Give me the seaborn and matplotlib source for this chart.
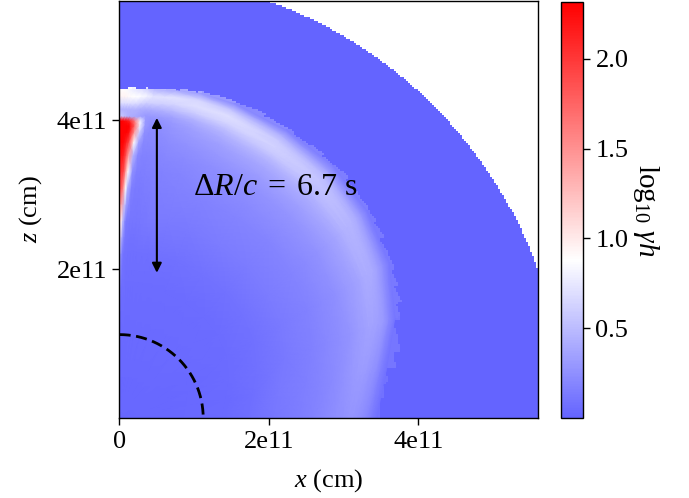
import numpy as np
import matplotlib
matplotlib.use("Agg")
import matplotlib.pyplot as plt
from matplotlib.colors import LinearSegmentedColormap, Normalize
import seaborn as sns

# all lengths in units of 1e11 cm, values are log10(gamma h)
axis_max = 5.6
outer_radius = 5.94
engine_radius = 1.12
vmin, vmax = 0.0, 2.317
ambient_value = 0.0

# jagged shell edge against angle from the z axis
edge_angles = [0, 3, 6, 9, 12, 15, 18, 21, 24, 27, 30, 33, 36, 39, 42,
               45, 48, 51, 54, 57, 60, 63, 66, 69, 72, 75, 78, 81, 84, 87]
edge_radius = [4.43, 4.44, 4.45, 4.47, 4.50, 4.52, 4.53, 4.52, 4.53, 4.50,
               4.50, 4.47, 4.48, 4.45, 4.46, 4.40, 4.38, 4.34, 4.30, 4.22,
               4.20, 4.14, 4.08, 4.00, 3.88, 3.87, 3.76, 3.62, 3.55, 3.48]

# nodes of the shell field: angle from z (deg), radius as a fraction of shell_radius
angle_nodes = [0, 0.5, 1, 1.5, 2, 3, 4, 5, 6, 8, 10, 14, 20, 30, 40, 50, 60, 70, 80, 90]
shell_radius = [4.41, 4.41, 4.41, 4.41, 4.41, 4.41, 4.42, 4.43, 4.43, 4.44,
                4.46, 4.49, 4.49, 4.46, 4.43, 4.32, 4.16, 3.92, 3.62, 3.44]
frac_nodes = [0, .25, .4, .5, .6, .7, .75, .8, .84, .87, .89, .905, .92, .94, .96, .98, 1.0]

values = [
    [.02, .04, .35, .70, 1.3, 1.9, 2.1, 2.2, 2.3, 2.3, 2.3, 2.3, .55, .45, .70, .95, .90],
    [.02, .04, .15, .30, 1.0, 1.8, 2.0, 2.2, 2.3, 2.3, 2.3, 2.3, .55, .45, .70, .95, .90],
    [.02, .04, .07, .12, .50, 1.5, 1.9, 2.1, 2.25, 2.3, 2.3, 2.25, .50, .45, .70, .95, .90],
    [.02, .04, .06, .09, .25, .90, 1.4, 1.8, 2.1, 2.3, 2.3, 2.2, .45, .45, .70, .92, .85],
    [.02, .04, .06, .08, .12, .45, .90, 1.4, 1.9, 2.2, 2.3, 2.1, .42, .45, .70, .90, .80],
    [.02, .04, .05, .07, .10, .16, .25, .45, .90, 1.4, 1.7, 1.6, .40, .45, .68, .88, .75],
    [.02, .04, .05, .07, .10, .13, .16, .20, .35, .60, .80, .80, .35, .42, .65, .85, .70],
    [.02, .04, .05, .07, .10, .13, .15, .18, .20, .25, .30, .30, .30, .42, .62, .80, .60],
    [.02, .04, .05, .07, .11, .14, .16, .18, .20, .22, .24, .26, .30, .42, .62, .72, .50],
    [.02, .04, .05, .07, .12, .15, .17, .19, .21, .23, .25, .27, .32, .45, .62, .72, .45],
    [.02, .04, .05, .07, .13, .16, .18, .20, .23, .26, .28, .30, .36, .50, .65, .72, .40],
    [.02, .04, .05, .08, .13, .17, .19, .22, .26, .30, .33, .38, .45, .60, .70, .65, .30],
    [.02, .04, .05, .08, .13, .18, .21, .24, .29, .34, .39, .45, .52, .65, .70, .55, .22],
    [.02, .04, .05, .09, .14, .19, .22, .26, .32, .38, .44, .50, .58, .62, .58, .42, .18],
    [.02, .04, .05, .09, .14, .19, .23, .28, .34, .40, .45, .50, .54, .55, .48, .32, .15],
    [.02, .04, .05, .09, .14, .19, .22, .27, .32, .37, .41, .45, .46, .46, .40, .28, .13],
    [.02, .03, .05, .08, .13, .18, .21, .25, .30, .34, .37, .40, .41, .40, .34, .24, .12],
    [.02, .03, .05, .08, .12, .17, .20, .24, .28, .32, .34, .36, .36, .34, .30, .20, .10],
    [.02, .03, .04, .07, .12, .16, .19, .22, .26, .29, .31, .31, .31, .28, .24, .16, .09],
    [.02, .03, .04, .07, .11, .15, .18, .21, .24, .26, .28, .28, .27, .24, .20, .14, .08],
]

x_ticks = [0, 2, 4]
x_tick_labels = ["0", "2e11", "4e11"]
z_ticks = [2, 4]
z_tick_labels = ["2e11", "4e11"]
cbar_ticks = [0.5, 1.0, 1.5, 2.0]

plt.rcParams["font.family"] = ["Liberation Serif", "DejaVu Serif"]
plt.rcParams["mathtext.fontset"] = "custom"
plt.rcParams["mathtext.rm"] = "Liberation Serif"
plt.rcParams["mathtext.it"] = "Liberation Serif:italic"

cmap = LinearSegmentedColormap.from_list(
    "gamma_h", [(0.0, "#6464ff"), (0.38, "#ffffff"), (1.0, "#ff0000")])
cmap.set_bad("white")

# background layer: ambient medium, outer boundary and the rough shell edge
n_cells = 209
centers = (np.arange(n_cells) + 0.5) * axis_max / n_cells
xx, zz = np.meshgrid(centers, centers[::-1])
rr = np.hypot(xx, zz)
angle = np.degrees(np.arctan2(xx, zz))

edge_idx = np.clip(np.searchsorted(edge_angles, angle + 1.5) - 1, 0, len(edge_angles) - 1)
row_idx = np.clip(np.searchsorted(angle_nodes, angle) - 1, 0, len(angle_nodes) - 1)
grid = np.where(rr < np.array(edge_radius)[edge_idx],
                np.array(values)[row_idx, -1], ambient_value)
grid[rr > outer_radius] = np.nan

fig = plt.figure(figsize=(6.89, 4.98), dpi=100)
ax = fig.add_axes([119.5 / 689, 80 / 498, 418.5 / 689, 417 / 498])
cax = fig.add_axes([561 / 689, 80 / 498, 22 / 689, 416 / 498])

sns.heatmap(grid, ax=ax, cbar_ax=cax, cmap=cmap, vmin=vmin, vmax=vmax,
            xticklabels=False, yticklabels=False)


def to_x(v):
    return np.asarray(v) / axis_max * n_cells


def to_z(v):
    return n_cells - np.asarray(v) / axis_max * n_cells


# shell field, drawn on the table nodes and shaded by matplotlib
theta = np.radians(angle_nodes)[:, None]
node_r = np.array(shell_radius)[:, None] * np.array(frac_nodes)[None, :]
ax.pcolormesh(to_x(node_r * np.sin(theta)), to_z(node_r * np.cos(theta)),
              np.array(values), shading="gouraud", cmap=cmap,
              norm=Normalize(vmin, vmax))

ax.set_xticks(to_x(x_ticks), x_tick_labels)
ax.set_yticks(to_z(z_ticks), z_tick_labels, rotation=0)
ax.tick_params(length=5, width=1, labelsize=19, pad=4)
ax.set_xlabel(r"$x$ (cm)", fontsize=19)
ax.set_ylabel(r"$z$ (cm)", fontsize=19)
ax.xaxis.set_label_coords(0.5, -0.118)
ax.yaxis.set_label_coords(-0.18, 0.5)
for spine in ax.spines.values():
    spine.set_visible(True)
    spine.set_linewidth(1)

# engine radius
phi = np.radians(np.arange(0, 90.5, 0.5))
ax.plot(to_x(engine_radius * np.sin(phi)), to_z(engine_radius * np.cos(phi)),
        color="black", ls=(0, (4, 2)), lw=2)

# shell width arrow
ax.annotate("", xy=(to_x(0.5), to_z(4.03)), xytext=(to_x(0.5), to_z(1.95)),
            arrowprops=dict(arrowstyle="<|-|>", color="black", lw=1.5,
                            mutation_scale=14, shrinkA=0, shrinkB=0))
ax.text(to_x(0.98), to_z(3.1), r"$\Delta R/c\;=\;6.7$ s", fontsize=23,
        va="center", ha="left")

cbar = ax.collections[0].colorbar
cbar.set_ticks(cbar_ticks)
cbar.ax.tick_params(length=5, width=1, labelsize=19, pad=4)
cbar.outline.set_visible(True)
cbar.outline.set_linewidth(1)
cbar.outline.set_edgecolor("black")
cbar.set_label(r"$\log_{10}\,\gamma h$", rotation=270, fontsize=21)
cbar.ax.yaxis.set_label_coords(4.55, 0.5)
cbar.ax.yaxis.label.set_y(0.5)

fig.savefig("out.png", dpi=100)
